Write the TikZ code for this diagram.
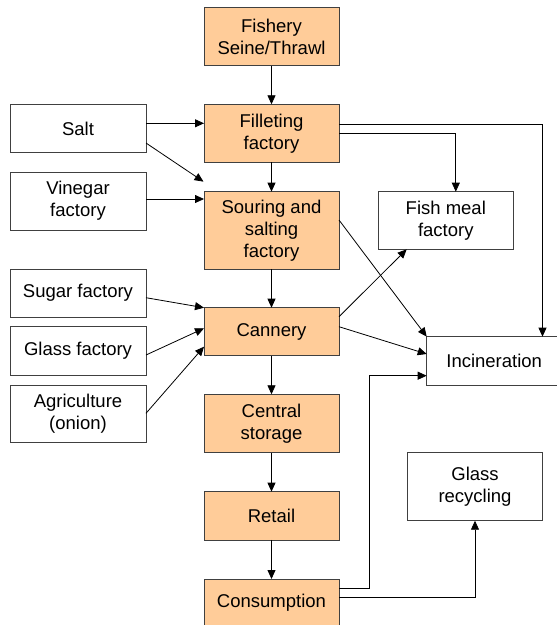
\documentclass[tikz,border=0pt]{standalone}
\usepackage{fontspec}
\setmainfont{Liberation Sans}
\usetikzlibrary{arrows.meta,calc}
\definecolor{peach}{HTML}{FFCC99}
\definecolor{edgegray}{HTML}{404040}
\tikzset{
  basebox/.style={draw=edgegray, line width=0.9pt, inner sep=0pt, outer sep=0pt, align=center,
    font=\fontsize{18.5}{22}\selectfont},
  obox/.style={basebox, fill=peach, minimum width=135pt},
  wbox/.style={basebox, fill=white, minimum width=136pt},
  arr/.style={draw=black, line width=0.8pt, -{Triangle[length=9pt,width=8pt]}},
}
\begin{document}
\begin{tikzpicture}[x=1pt,y=-1pt]
\clip (0,0) rectangle (557,625);
\fill[white] (0,0) rectangle (557,625);
% main chain
\node[obox, minimum height=58.4pt] (fish) at (271.5,36.5) {Fishery\\Seine/Thrawl};
\node[obox, minimum height=58pt] (fil) at (271.5,133.3) {Filleting\\factory};
\node[obox, minimum height=77.3pt] (sour) at (271.5,230.3) {Souring and\\salting\\factory};
\node[obox, minimum height=48pt] (can) at (271.5,331.7) {Cannery};
\node[obox, minimum height=58.4pt] (cen) at (271.5,423.5) {Central\\storage};
\node[obox, minimum height=48.3pt] (ret) at (271.5,515.8) {Retail};
\node[obox, minimum height=48pt] (con) at (271.5,603) {Consumption};
% inputs
\node[wbox, minimum height=48.4pt] (salt) at (78,128.5) {Salt};
\node[wbox, minimum height=57.7pt] (vin) at (78,201.2) {Vinegar\\factory};
\node[wbox, minimum height=48.3pt] (sug) at (78,293.2) {Sugar factory};
\node[wbox, minimum height=48.3pt] (gla) at (78,350.8) {Glass factory};
\node[wbox, minimum height=57.7pt] (agr) at (78,413.8) {Agriculture\\(onion)};
% outputs
\node[wbox, minimum width=135pt, minimum height=57.6pt] (fm) at (445.8,220.5) {Fish meal\\factory};
\node[wbox, minimum width=135pt, minimum height=48.3pt] (inc) at (494.2,360.8) {Incineration};
\node[wbox, minimum width=135.4pt, minimum height=68pt] (gr) at (475,486.7) {Glass\\recycling};
\coordinate (saltend) at ($(sour.north west)+(-0.5,-10)$);
% chain arrows
\draw[arr] (fish) -- (fil);
\draw[arr] (fil) -- (sour);
\draw[arr] (sour) -- (can);
\draw[arr] (can) -- (cen);
\draw[arr] (cen) -- (ret);
\draw[arr] (ret) -- (con);
% input arrows
\draw[arr] (salt.east |- 0,123.3) -- (fil.west |- 0,123.3);
\draw[arr] (salt.east |- 0,143) -- (saltend);
\draw[arr] (vin.east |- 0,199) -- (sour.west |- 0,199);
\draw[arr] (sug.east |- 0,297.7) -- (can.north west);
\draw[arr] (gla.east |- 0,355) -- (can.west |- 0,328.3);
\draw[arr] (agr.east |- 0,413.3) -- (can.west |- 0,346.7);
% output arrows
\draw[arr] (fil.east |- 0,124) -| (inc.north -| 542.5,0);
\draw[arr] (fil.east |- 0,133.3) -| (fm.north -| 455.8,0);
\draw[arr] (sour.east |- 0,220) -- (inc.north west);
\draw[arr] (can.east |- 0,316.7) -- (fm.south -| 406.7,0);
\draw[arr] (can.east |- 0,326.7) -- (inc.west |- 0,354);
\draw[arr] (con.east |- 0,588) -- (369.3,588) |- (inc.west |- 0,375.7);
\draw[arr] (con.east |- 0,597.5) -| (gr.south);
\end{tikzpicture}
\end{document}
